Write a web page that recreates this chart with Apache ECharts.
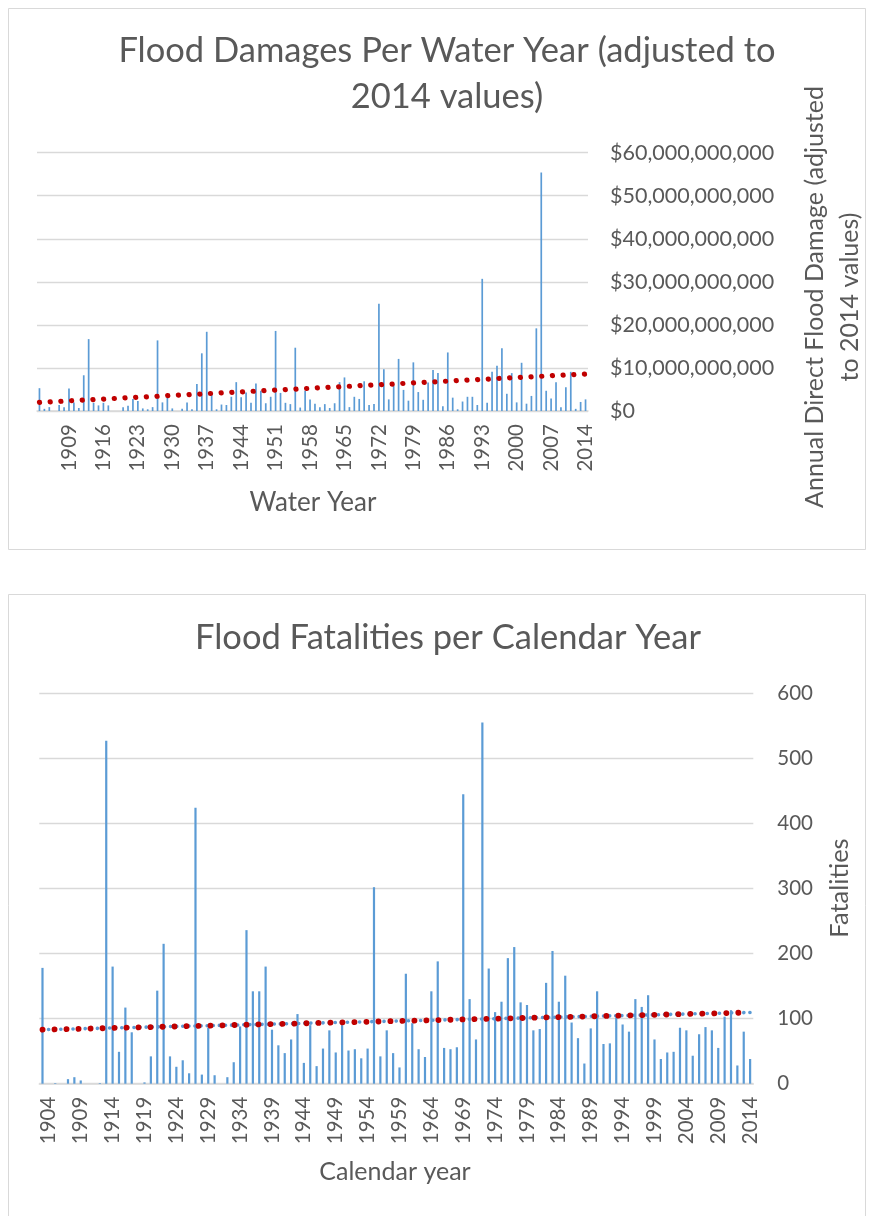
<!DOCTYPE html>
<html>
<head>
<meta charset="utf-8">
<script src="https://cdn.jsdelivr.net/npm/echarts@6/dist/echarts.min.js"></script>
<style>
  html, body { margin: 0; padding: 0; background: #fff; }
  #chart { width: 874px; height: 1216px; }
</style>
</head>
<body>
<div id="chart"></div>
<script>
// ---- data: flood damages per water year (billions of 2014 dollars) ----
const damageFirstYear = 1903;
const damageLastYear = 2014;
const damageBillions = [
  5.3, 0.5, 0.9, 0, 1.4, 0.9, 5.2, 2.0, 0.7, 8.3,
  16.7, 1.9, 1.3, 1.9, 1.3, 0, 0, 0.85, 1.2, 2.8,
  2.3, 0.6, 0.4, 0.9, 16.4, 2.0, 3.1, 0.6, 0, 0.5,
  2.0, 0.4, 6.3, 13.4, 18.4, 3.9, 0.4, 1.5, 1.4, 3.3,
  6.7, 3.2, 4.3, 1.9, 6.4, 4.7, 1.8, 3.3, 18.6, 4.2,
  1.9, 1.6, 14.7, 0.8, 4.7, 2.7, 1.7, 0.85, 1.6, 0.7,
  1.8, 6.7, 7.8, 0.9, 3.3, 2.8, 6.9, 1.4, 1.6, 24.9,
  9.7, 2.7, 5.8, 12.1, 4.9, 2.4, 11.3, 4.4, 2.6, 6.6,
  9.5, 8.8, 1.1, 13.6, 3.1, 0.4, 2.2, 3.3, 3.3, 1.4,
  30.7, 1.9, 9.1, 10.5, 14.6, 4.0, 8.8, 2.0, 11.2, 1.7,
  3.5, 19.2, 55.4, 4.7, 2.9, 6.7, 0.9, 5.5, 9.1, 0.5,
  2.1, 2.7
];
const damageTrendEnds = [2.0, 8.6];        // trendline at first / last year
const damageTicks = [0, 10, 20, 30, 40, 50, 60];

// ---- data: flood fatalities per calendar year ----
const fatalFirstYear = 1903;
const fatalLastYear = 2014;
const fatalities = [
  178, 0, 1, 0, 7, 10, 5, 0, 0, 1,
  527, 180, 49, 117, 79, 0, 2, 42, 143, 215,
  42, 26, 36, 16, 424, 14, 86, 13, 0, 10,
  33, 88, 236, 142, 142, 180, 83, 59, 47, 68,
  107, 32, 90, 27, 54, 82, 48, 90, 51, 53,
  39, 54, 302, 42, 82, 47, 25, 169, 93, 53,
  41, 142, 188, 55, 53, 56, 445, 130, 68, 555,
  177, 110, 126, 193, 210, 125, 121, 82, 84, 155,
  204, 126, 166, 94, 70, 31, 85, 142, 61, 62,
  102, 91, 80, 130, 118, 136, 68, 38, 48, 49,
  86, 82, 43, 76, 87, 82, 55, 103, 113, 28,
  80, 38
];
const fatalTrendEnds = [83, 109.5];
const fatalTicks = [0, 100, 200, 300, 400, 500, 600];

const yearsBetween = (a, b) => {
  const out = [];
  for (let y = a; y <= b; y++) out.push(String(y));
  return out;
};
const damageYears = yearsBetween(damageFirstYear, damageLastYear);
const fatalYears = yearsBetween(fatalFirstYear, fatalLastYear);

const grey = '#595959';
const lineGrey = '#D9D9D9';
const barBlue = '#5B9BD5';
const trendRed = '#C00000';
const font = 'Lato';

const chart = echarts.init(document.getElementById('chart'), null, { renderer: 'canvas' });

const textEl = (x, y, text, size, rot) => ({
  type: 'text', x: x, y: y, rotation: rot || 0, silent: true,
  style: { text: text, fill: grey, fontSize: size, fontFamily: font, align: 'center', verticalAlign: 'middle' }
});

chart.setOption({
  animation: false,
  backgroundColor: '#fff',
  graphic: [
    { type: 'rect', shape: { x: 8.5, y: 8.5, width: 857, height: 541 }, style: { fill: null, stroke: lineGrey, lineWidth: 1 } },
    { type: 'rect', shape: { x: 8.5, y: 594.5, width: 857, height: 640 }, style: { fill: null, stroke: lineGrey, lineWidth: 1 } },
    textEl(447, 51, 'Flood Damages Per Water Year (adjusted to', 34.5),
    textEl(447, 97, '2014 values)', 34.5),
    textEl(448, 638, 'Flood Fatalities per Calendar Year', 34.5),
    textEl(313, 503, 'Water Year', 26),
    textEl(395, 1172, 'Calendar year', 25),
    textEl(815, 297, 'Annual Direct Flood Damage (adjusted', 25, Math.PI / 2),
    textEl(850, 297, 'to 2014 values)', 25, Math.PI / 2),
    textEl(840, 888, 'Fatalities', 25.5, Math.PI / 2)
  ],
  grid: [
    { left: 37, top: 152.7, width: 551, height: 258.3 },
    { left: 39.3, top: 693.3, width: 714, height: 390.4 }
  ],
  xAxis: [
    {
      gridIndex: 0, type: 'category', data: damageYears,
      axisLine: { lineStyle: { color: lineGrey, width: 1.5 } },
      axisTick: { show: false },
      axisLabel: {
        interval: (i, v) => (+v - 1909) % 7 === 0 && +v >= 1909,
        rotate: 90, margin: 13, color: grey, fontSize: 20.5, fontFamily: font
      }
    },
    {
      gridIndex: 1, type: 'category', data: fatalYears,
      axisLine: { lineStyle: { color: lineGrey, width: 1.5 } },
      axisTick: { show: false },
      axisLabel: {
        interval: (i, v) => (+v - 1904) % 5 === 0 && +v >= 1904,
        rotate: 90, margin: 13, color: grey, fontSize: 20.5, fontFamily: font
      }
    }
  ],
  yAxis: [
    {
      gridIndex: 0, type: 'value', position: 'right',
      min: damageTicks[0], max: damageTicks[damageTicks.length - 1], interval: 10,
      axisLine: { show: false }, axisTick: { show: false },
      splitLine: { lineStyle: { color: lineGrey, width: 1.3 } },
      axisLabel: {
        margin: 22, color: grey, fontSize: 21.5, fontFamily: font,
        formatter: v => '$' + (v * 1e9).toLocaleString('en-US')
      }
    },
    {
      gridIndex: 1, type: 'value', position: 'right',
      min: fatalTicks[0], max: fatalTicks[fatalTicks.length - 1], interval: 100,
      axisLine: { show: false }, axisTick: { show: false },
      splitLine: { lineStyle: { color: lineGrey, width: 1.3 } },
      axisLabel: { margin: 24, color: grey, fontSize: 20.5, fontFamily: font }
    }
  ],
  series: [
    {
      type: 'bar', xAxisIndex: 0, yAxisIndex: 0, data: damageBillions,
      barWidth: 1.7, itemStyle: { color: barBlue }
    },
    {
      type: 'line', xAxisIndex: 0, yAxisIndex: 0, symbol: 'none',
      data: [[0, damageTrendEnds[0]], [damageYears.length - 1, damageTrendEnds[1]]],
      lineStyle: { color: trendRed, width: 5.2, type: [0.1, 10.6], cap: 'round' }
    },
    {
      type: 'bar', xAxisIndex: 1, yAxisIndex: 1, data: fatalities,
      barWidth: 2.2, itemStyle: { color: barBlue }
    },
    {
      type: 'line', xAxisIndex: 1, yAxisIndex: 1, symbol: 'none',
      data: [[0, fatalTrendEnds[0]], [fatalYears.length - 1, fatalTrendEnds[1]]],
      lineStyle: { color: barBlue, width: 3.6, type: [0.1, 6], cap: 'round' }
    },
    {
      type: 'line', xAxisIndex: 1, yAxisIndex: 1, symbol: 'none',
      data: [[0, fatalTrendEnds[0]], [fatalYears.length - 1, fatalTrendEnds[1]]],
      lineStyle: { color: trendRed, width: 5.8, type: [0.1, 11.9], cap: 'round' }
    }
  ]
});
</script>
</body>
</html>
